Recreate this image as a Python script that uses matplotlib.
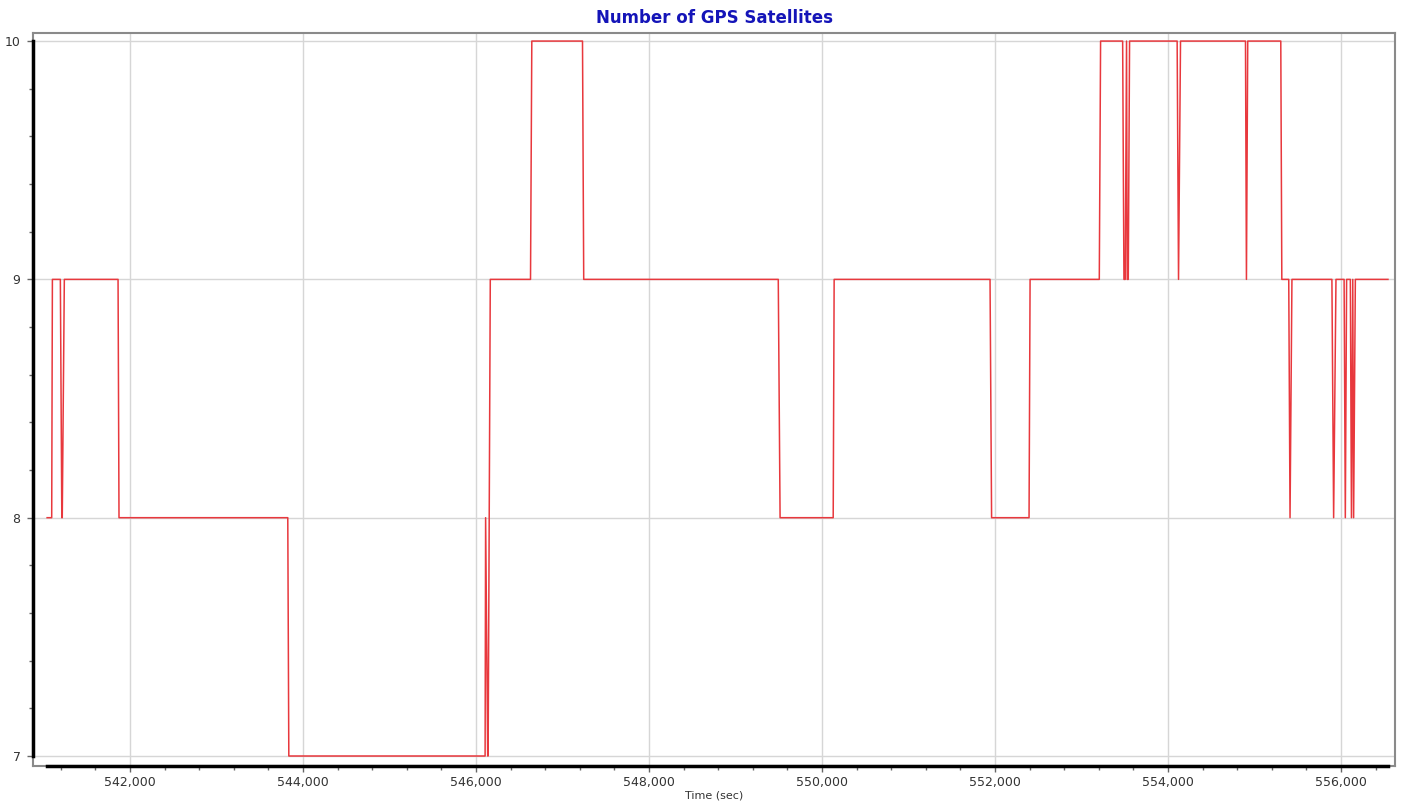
import matplotlib
matplotlib.use("Agg")
import matplotlib.pyplot as plt
from matplotlib.ticker import MultipleLocator, FuncFormatter

# vertices of the satellite-count trace (time in sec, count)
time_sec = [541042, 541095, 541103, 541195, 541212, 541217, 541241, 541862, 541873,
            543824, 543836, 546105, 546111, 546135, 546140, 546165, 546630, 546645,
            547231, 547245, 549494, 549515, 550129, 550140, 551942, 551960, 552393,
            552405, 553205, 553220, 553475, 553490, 553505, 553520, 553528, 553540,
            553555, 554105, 554121, 554144, 554895, 554906, 554921, 555303, 555315,
            555395, 555410, 555432, 555894, 555914, 555941, 556035, 556049, 556064,
            556107, 556120, 556135, 556145, 556165, 556542]
num_sats = [8, 8, 9, 9, 8, 8, 9, 9, 8,
            8, 7, 7, 8, 7, 7, 9, 9, 10,
            10, 9, 9, 8, 8, 9, 9, 8, 8,
            9, 9, 10, 10, 9, 9, 10, 9, 9,
            10, 10, 9, 10, 10, 9, 10, 10, 9,
            9, 8, 9, 9, 8, 9, 9, 8, 9,
            9, 8, 9, 8, 9, 9]

xticks = [542000, 544000, 546000, 548000, 550000, 552000, 554000, 556000]
yticks = [7, 8, 9, 10]

fig = plt.figure(figsize=(14.11, 8.10), dpi=100)
ax = fig.add_axes([0.0234, 0.0543, 0.9653, 0.905])

ax.plot(time_sec, num_sats, color="#e8383d", lw=1.1, zorder=3)

ax.set_xlim(540879, 556624)
ax.set_ylim(6.958, 10.034)
ax.set_xticks(xticks)
ax.set_yticks(yticks)
ax.xaxis.set_minor_locator(MultipleLocator(400))
ax.yaxis.set_minor_locator(MultipleLocator(0.2))
ax.xaxis.set_major_formatter(FuncFormatter(lambda v, p: f"{int(v):,}"))
ax.grid(True, which="major", color="#d6d6d6", lw=1)
ax.set_axisbelow(True)

ax.tick_params(which="both", colors="#666666", labelcolor="#333333", labelsize=9)
ax.tick_params(which="major", length=4, width=1)
ax.tick_params(which="minor", length=3, width=1)
ax.tick_params(axis="y", pad=5)

for side in ["top", "right", "left", "bottom"]:
    ax.spines[side].set_color("#8a8a8a")
    ax.spines[side].set_linewidth(1.5)

# dark axis lines spanning the data range
ax.plot([time_sec[0], time_sec[-1]], [0, 0], transform=ax.get_xaxis_transform(),
        color="black", lw=2.5, clip_on=False, zorder=4)
ax.plot([0, 0], [7, 10], transform=ax.get_yaxis_transform(),
        color="black", lw=2.5, clip_on=False, zorder=4)

ax.set_xlabel("Time (sec)", fontsize=8, color="#333333", labelpad=1)
ax.set_title("Number of GPS Satellites", fontsize=12, fontweight="bold",
             color="#1414b8", pad=7)

fig.savefig("out.png", dpi=100)
